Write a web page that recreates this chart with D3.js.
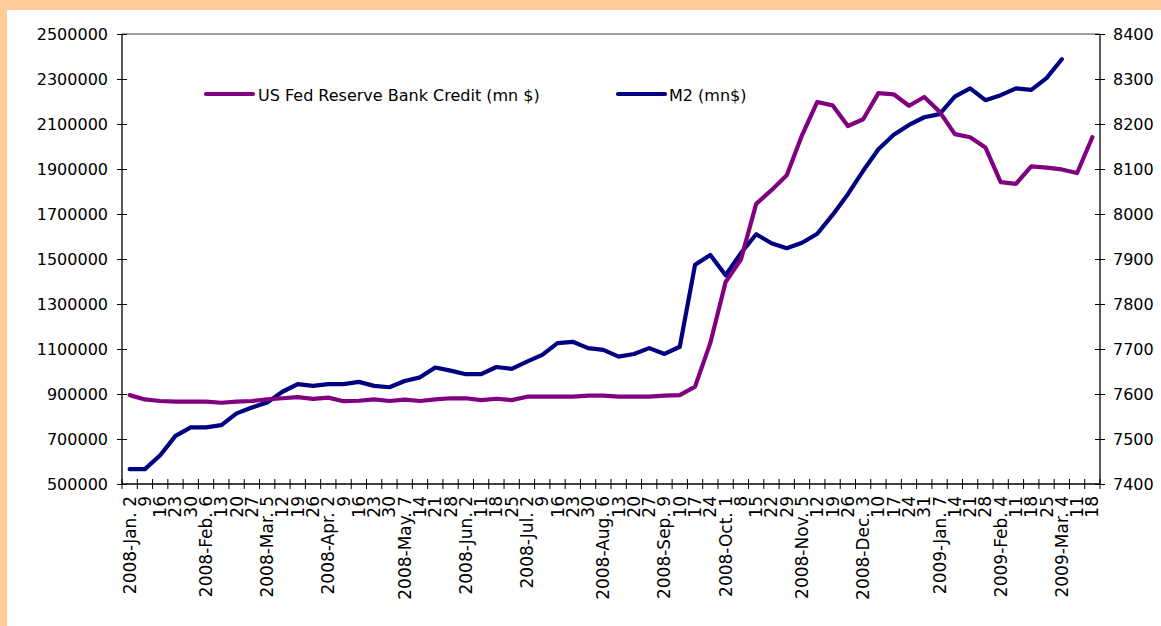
<!DOCTYPE html>
<html>
<head>
<meta charset="utf-8">
<script src="https://cdn.jsdelivr.net/npm/d3@7"></script>
<style>
  html, body { margin: 0; padding: 0; background: #FFCC99; }
  svg { display: block; }
  text { font-family: "DejaVu Sans", Verdana, sans-serif; fill: #000; }
</style>
</head>
<body>
<script>
// ---------- data ----------
const dates = [
  "2008-Jan. 2", "9", "16", "23", "30",
  "2008-Feb. 6", "13", "20", "27",
  "2008-Mar. 5", "12", "19", "26",
  "2008-Apr. 2", "9 ", "16 ", "23 ", "30 ",
  "2008-May. 7", "14", "21", "28",
  "2008-Jun. 2", "11", "18", "25",
  "2008-Jul. 2", "9  ", "16  ", "23  ", "30  ",
  "2008-Aug. 6", "13 ", "20 ", "27 ",
  "2008-Sep. 9", "10", "17", "24",
  "2008-Oct. 1", "8", "15", "22", "29",
  "2008-Nov. 5", "12 ", "19 ", "26 ",
  "2008-Dec. 3", "10 ", "17 ", "24 ", "31",
  "2009-Jan. 7", "14 ", "21 ", "28 ",
  "2009-Feb. 4", "11 ", "18 ", "25 ",
  "2009-Mar. 4", "11  ", "18  "
];

const fedCredit = [
  895000, 876000, 869000, 866000, 866000, 866000, 861000, 866000, 869000, 876000,
  881000, 886000, 878000, 884000, 868000, 870000, 876000, 869000, 875000, 869000,
  876000, 881000, 881000, 873000, 879000, 873000, 888000, 888000, 888000, 888000,
  893000, 893000, 888000, 888000, 888000, 893000, 895000, 933000, 1127000, 1398000,
  1497000, 1745000, 1806000, 1872000, 2050000, 2198000, 2183000, 2091000, 2121000, 2237000,
  2232000, 2181000, 2220000, 2155000, 2055000, 2041000, 1996000, 1842000, 1834000, 1912000,
  1906000, 1898000, 1882000, 2041000
];

const m2 = [
  7433, 7433, 7464, 7507, 7526, 7526, 7531, 7557, 7570, 7581,
  7605, 7622, 7618, 7622, 7622, 7627, 7618, 7615, 7629, 7637,
  7659, 7652, 7644, 7644, 7660, 7656, 7672, 7687, 7713, 7716,
  7702, 7698, 7683, 7689, 7702, 7689, 7705, 7887, 7909, 7864,
  7913, 7955, 7935, 7924, 7936, 7956, 7998, 8044, 8096, 8144,
  8176, 8198, 8215, 8222, 8261, 8279, 8253, 8264, 8279, 8276,
  8302, 8344, null, null
];

const leftTicks = [500000, 700000, 900000, 1100000, 1300000, 1500000, 1700000, 1900000, 2100000, 2300000, 2500000];
const rightTicks = [7400, 7500, 7600, 7700, 7800, 7900, 8000, 8100, 8200, 8300, 8400];
const seriesNames = ["US Fed Reserve Bank Credit (mn $)", "M2 (mn$)"];
const seriesColors = ["#800080", "#000080"];

// ---------- layout ----------
const W = 1161, H = 626;
const plot = { left: 122, right: 1100, top: 34, bottom: 484 };

const svg = d3.select("body").append("svg").attr("width", W).attr("height", H);

svg.append("rect").attr("x", 0).attr("y", 0).attr("width", W).attr("height", H).attr("fill", "#FFCC99");
svg.append("rect").attr("x", 7).attr("y", 10).attr("width", W - 7).attr("height", H - 10).attr("fill", "#FFFFFF");

const x = d3.scaleBand().domain(dates).range([plot.left, plot.right]).padding(0);
const yL = d3.scaleLinear().domain([500000, 2500000]).range([plot.bottom, plot.top]);
const yR = d3.scaleLinear().domain([7400, 8400]).range([plot.bottom, plot.top]);

// top border
svg.append("line").attr("x1", plot.left).attr("x2", plot.right)
  .attr("y1", plot.top).attr("y2", plot.top).attr("stroke", "#808080").attr("stroke-width", 1.5);

// left axis
const gL = svg.append("g").attr("transform", `translate(${plot.left},0)`)
  .call(d3.axisLeft(yL).tickValues(leftTicks).tickFormat(d3.format("d")).tickSize(5).tickPadding(9));
gL.selectAll(".tick line").clone().attr("x2", 5);
gL.select(".domain").attr("d", `M0,${plot.top}V${plot.bottom}`);

// right axis
const gR = svg.append("g").attr("transform", `translate(${plot.right},0)`)
  .call(d3.axisRight(yR).tickValues(rightTicks).tickFormat(d3.format("d")).tickSize(5).tickPadding(8));
gR.selectAll(".tick line").clone().attr("x2", -5);
gR.select(".domain").attr("d", `M0,${plot.top}V${plot.bottom}`);

[gL, gR].forEach(g => {
  g.selectAll("text").attr("font-size", 16).attr("font-family", "DejaVu Sans, Verdana, sans-serif").attr("fill", "#000");
  g.selectAll("line").attr("stroke", "#000");
  g.select(".domain").attr("stroke", "#000").attr("stroke-width", 1.3);
});

// bottom axis: boundary ticks + rotated labels
const gB = svg.append("g");
gB.append("line").attr("x1", plot.left).attr("x2", plot.right)
  .attr("y1", plot.bottom).attr("y2", plot.bottom).attr("stroke", "#000").attr("stroke-width", 1.3);
const bounds = dates.map(d => x(d)).concat([plot.right]);
gB.selectAll(".bt").data(bounds).join("line")
  .attr("x1", d => d).attr("x2", d => d)
  .attr("y1", plot.bottom - 5).attr("y2", plot.bottom + 5)
  .attr("stroke", "#000").attr("stroke-width", 1);
gB.selectAll(".bl").data(dates).join("text")
  .attr("transform", d => `translate(${x(d) + x.bandwidth() / 2},${plot.bottom + 12}) rotate(-90)`)
  .attr("text-anchor", "end")
  .attr("dominant-baseline", "central")
  .attr("font-size", 17)
  .text(d => d.trim());

// lines
const cx = (d, i) => x(dates[i]) + x.bandwidth() / 2;
const lineL = d3.line().x((d, i) => cx(d, i)).y(d => yL(d)).defined(d => d != null);
const lineR = d3.line().x((d, i) => cx(d, i)).y(d => yR(d)).defined(d => d != null);

svg.append("path").datum(m2).attr("d", lineR)
  .attr("fill", "none").attr("stroke", seriesColors[1]).attr("stroke-width", 4.2)
  .attr("stroke-linejoin", "round").attr("stroke-linecap", "round");
svg.append("path").datum(fedCredit).attr("d", lineL)
  .attr("fill", "none").attr("stroke", seriesColors[0]).attr("stroke-width", 4.2)
  .attr("stroke-linejoin", "round").attr("stroke-linecap", "round");

// legend
const legendPos = [{ x1: 206, x2: 253, tx: 258 }, { x1: 618, x2: 665, tx: 669 }];
const legY = 94;
seriesNames.forEach((name, i) => {
  const p = legendPos[i];
  svg.append("line").attr("x1", p.x1).attr("x2", p.x2).attr("y1", legY).attr("y2", legY)
    .attr("stroke", seriesColors[i]).attr("stroke-width", 4.2).attr("stroke-linecap", "round");
  svg.append("text").attr("x", p.tx).attr("y", legY + 1).attr("dominant-baseline", "central")
    .attr("font-size", 16).text(name);
});
</script>
</body>
</html>
